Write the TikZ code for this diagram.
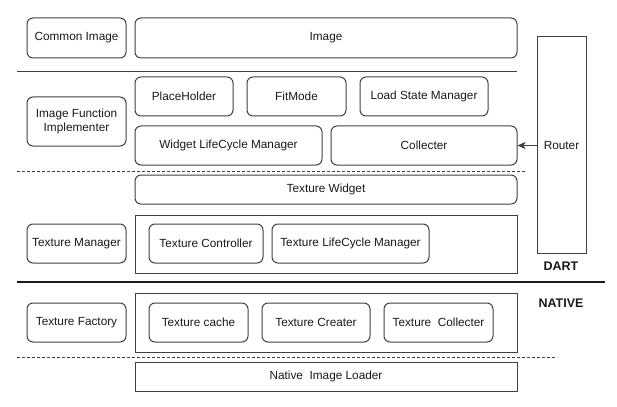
\documentclass[tikz,border=0pt]{standalone}
\usepackage{fontspec}
\setmainfont{Liberation Sans}
\usetikzlibrary{arrows.meta}
\begin{document}
\begin{tikzpicture}[x=1pt,y=-1pt,
  every node/.style={font=\fontsize{11.8}{13.5}\selectfont, text=black!90, inner sep=0pt, align=center},
  rbox/.style={draw=black!75, line width=1pt, rounded corners=6pt},
  sbox/.style={draw=black!75, line width=1pt},
  sep/.style={draw=black!75, line width=1pt},
  dsep/.style={draw=black!75, line width=0.8pt, dash pattern=on 3pt off 2pt},
  tsep/.style={draw=black!90, line width=2pt},
  lbl/.style={font=\fontsize{12.5}{14}\selectfont\bfseries, text=black!90}]
\useasboundingbox (0,0) rectangle (617,406);
% row 1
\node[rbox, minimum width=99pt, minimum height=40pt] (cimg) at (76.5,38) {Common Image};
\node[rbox, minimum width=382pt, minimum height=40pt] (img) at (326,38) {Image};
\coordinate (s1a) at (17,72); \coordinate (s1b) at (517,72);
\draw[sep] (s1a) -- (s1b);
% row 2
\node[rbox, minimum width=98pt, minimum height=39pt] (ph) at (184,96.5) {PlaceHolder};
\node[rbox, minimum width=99pt, minimum height=39pt] (fit) at (296.5,96.5) {FitMode};
\node[rbox, minimum width=128pt, minimum height=39pt] (lsm) at (424,96.5) {Load State Manager};
\node[rbox, minimum width=99pt, minimum height=49pt] (ifi) at (76.5,121.5) {Image Function\\Implementer};
\node[rbox, minimum width=187pt, minimum height=39pt] (wlm) at (228.5,145.5) {Widget LifeCycle Manager};
\node[rbox, minimum width=186pt, minimum height=39pt] (col) at (424,145.5) {Collecter};
\node[sbox, minimum width=49pt, minimum height=216pt] (router) at (561.5,145) {Router};
\draw[sep, -{Stealth[length=8pt,width=7pt,inset=2pt]}] (router.west |- col.east) -- (col.east);
\coordinate (d1a) at (17,171); \coordinate (d1b) at (526,171);
\draw[dsep] (d1a) -- (d1b);
% row 3
\node[rbox, minimum width=382pt, minimum height=29pt] (tw) at (326,189.5) {Texture Widget};
\node[sbox, minimum width=382pt, minimum height=58pt] (tmbox) at (326,244) {};
\node[rbox, minimum width=99pt, minimum height=39pt] (tm) at (76.5,243.5) {Texture Manager};
\node[rbox, minimum width=114pt, minimum height=39pt] (tc) at (206,243.5) {Texture Controller};
\node[rbox, minimum width=157pt, minimum height=39pt] (tlm) at (350.5,243.5) {Texture LifeCycle Manager};
\node[lbl] (dart) at (561,266) {DART};
\coordinate (t1a) at (17,282); \coordinate (t1b) at (605,282);
\draw[tsep] (t1a) -- (t1b);
\node[lbl] (native) at (561,303) {NATIVE};
% row 4
\node[sbox, minimum width=382pt, minimum height=59pt] (nbox) at (326,322.5) {};
\node[rbox, minimum width=99pt, minimum height=39pt] (tf) at (76.5,322.5) {Texture Factory};
\node[rbox, minimum width=99pt, minimum height=39pt] (tca) at (198.5,322.5) {Texture cache};
\node[rbox, minimum width=108pt, minimum height=39pt] (tcr) at (316,322.5) {Texture Creater};
\node[rbox, minimum width=109pt, minimum height=39pt] (tco) at (438.5,322.5) {Texture\ \ Collecter};
\coordinate (d2a) at (17,357); \coordinate (d2b) at (556,357);
\draw[dsep] (d2a) -- (d2b);
\node[sbox, minimum width=382pt, minimum height=29pt] (nil) at (326,376.5) {Native\ \ Image Loader};
\end{tikzpicture}
\end{document}
